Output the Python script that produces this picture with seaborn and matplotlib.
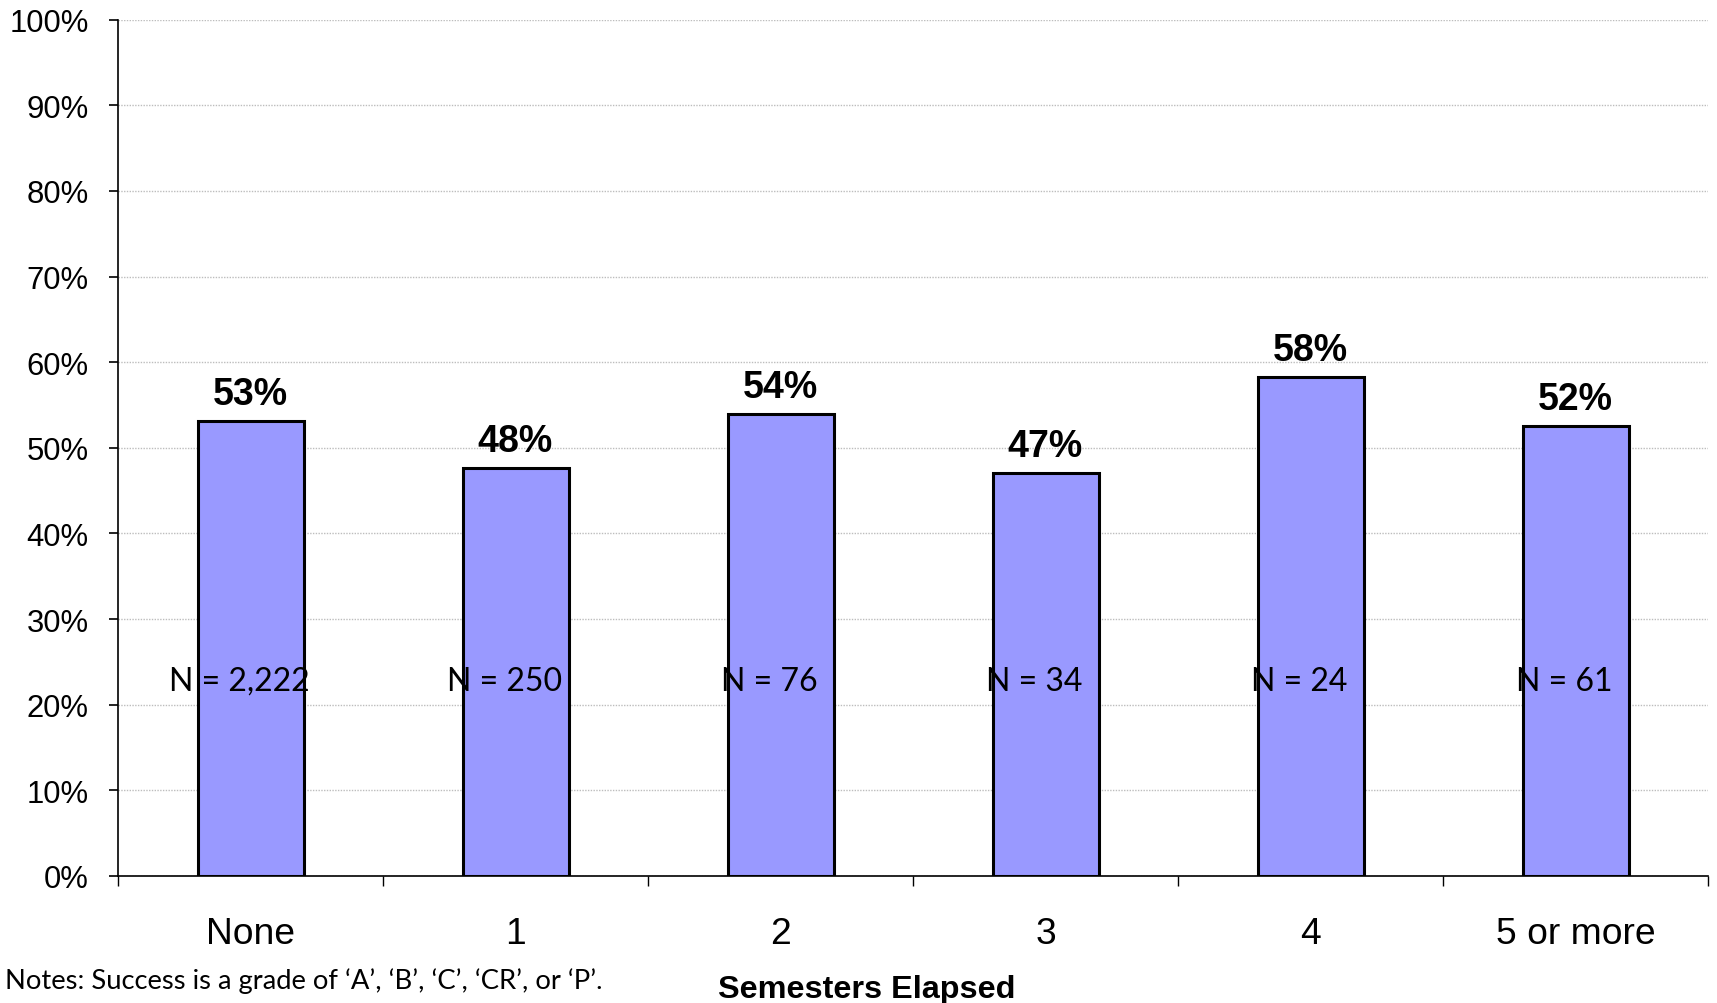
import matplotlib
matplotlib.use("Agg")
import matplotlib.pyplot as plt
import seaborn as sns
import pandas as pd
from matplotlib.ticker import FixedLocator, FuncFormatter

# ---- data ----
categories = ["None", "1", "2", "3", "4", "5 or more"]
success_pct = [53.1, 47.6, 54.0, 47.1, 58.3, 52.6]
pct_labels = ["53%", "48%", "54%", "47%", "58%", "52%"]
n_labels = ["N = 2,222", "N = 250", "N = 76", "N = 34", "N = 24", "N = 61"]
y_ticks = [0, 10, 20, 30, 40, 50, 60, 70, 80, 90, 100]
x_title = "Semesters Elapsed"
note_text = "Notes: Success is a grade of \u2018A\u2019, \u2018B\u2019, \u2018C\u2019, \u2018CR\u2019, or \u2018P\u2019."

df = pd.DataFrame({"cat": categories, "pct": success_pct})

sns.set_style("white")
plt.rcParams["font.family"] = ["Liberation Sans", "DejaVu Sans"]
plt.rcParams["text.color"] = "black"
plt.rcParams["axes.labelcolor"] = "black"
plt.rcParams["xtick.color"] = "black"
plt.rcParams["ytick.color"] = "black"

fig = plt.figure(figsize=(17.17, 10.04), dpi=100)
ax = fig.add_axes([118 / 1717, 1 - 877 / 1004, (1708 - 118) / 1717, (877 - 20.7) / 1004])

ax.set_axisbelow(True)
ax.yaxis.grid(True, color="#bdbdbd", linestyle=(0, (1, 1)), linewidth=1.0)
ax.xaxis.grid(False)

sns.barplot(data=df, x="cat", y="pct", color="#9999FF", saturation=1,
            edgecolor="black", linewidth=2.2, width=0.40, ax=ax, zorder=3)

ax.set_ylim(0, 100)
ax.set_xlim(-0.5, len(categories) - 0.5)
ax.yaxis.set_major_locator(FixedLocator(y_ticks))
ax.yaxis.set_major_formatter(FuncFormatter(lambda v, p: f"{int(v)}%"))
ax.tick_params(axis="y", which="major", direction="out", length=6.5, width=1.2,
               pad=14.5, labelsize=22.3, color="black", labelcolor="black", left=True)

# category labels at centres, tick marks at boundaries
ax.tick_params(axis="x", which="major", length=0, pad=28.5, labelsize=26.8,
               labelcolor="black")
ax.xaxis.set_minor_locator(FixedLocator([i - 0.5 for i in range(len(categories) + 1)]))
ax.tick_params(axis="x", which="minor", direction="out", length=7, width=1.0,
               color="black", bottom=True)

for side in ["top", "right"]:
    ax.spines[side].set_visible(False)
for side in ["left", "bottom"]:
    ax.spines[side].set_visible(True)
    ax.spines[side].set_color("black")
    ax.spines[side].set_linewidth(1.2)

ax.set_ylabel("")
ax.set_xlabel(x_title, fontsize=23.3, fontweight="bold", va="top", color="black")
ax.xaxis.set_label_coords(0.471, -0.115)

for i, (v, lab, nl) in enumerate(zip(success_pct, pct_labels, n_labels)):
    ax.annotate(lab, xy=(i, v), xytext=(0, 12.2), textcoords="offset points",
                ha="center", va="baseline", fontsize=27, fontweight="bold",
                color="black", zorder=5)
    ax.annotate(nl, xy=(i, 22.8), xytext=(-8, 0), textcoords="offset points",
                ha="center", va="center", fontsize=23, family=["Lato", "DejaVu Sans"],
                color="black", zorder=5)

fig.text(5 / 1717, 1 - 968 / 1004, note_text, ha="left", va="top", fontsize=19.7,
         family=["Lato", "DejaVu Sans"], color="black")

fig.savefig("out.png", dpi=100, facecolor="white")
